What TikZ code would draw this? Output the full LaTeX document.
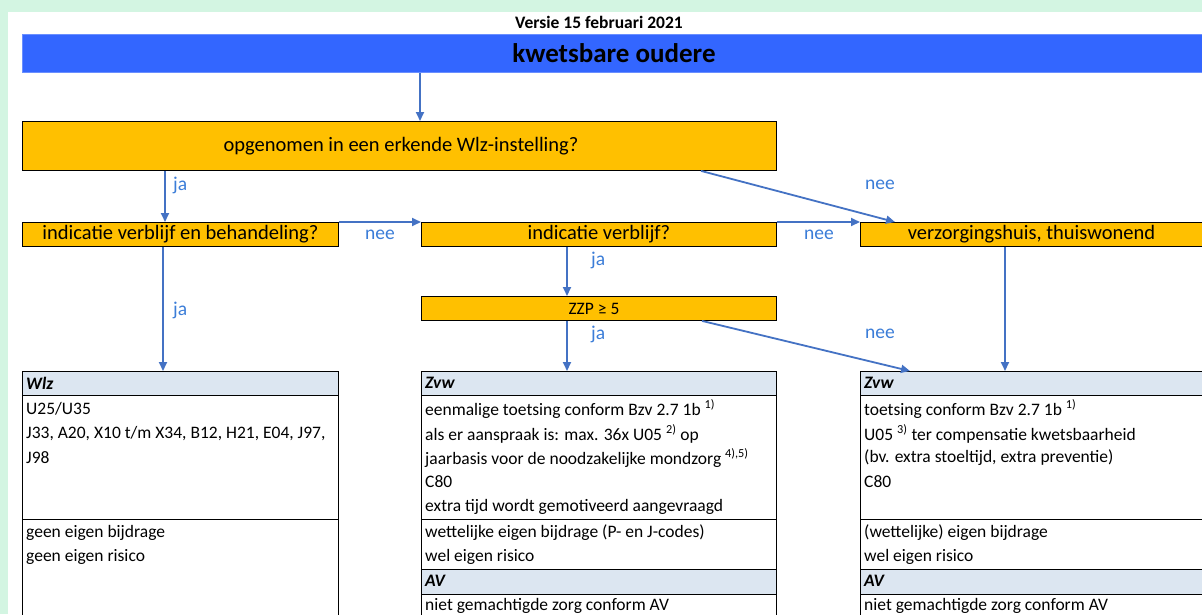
\documentclass[tikz,border=0pt]{standalone}
\usepackage{fontspec}
\setmainfont{Carlito}
\usetikzlibrary{arrows.meta}
\definecolor{bggreen}{HTML}{D3F5E2}
\definecolor{barblue}{HTML}{3366FF}
\definecolor{barborder}{HTML}{6A8FFF}
\definecolor{qorange}{HTML}{FFC000}
\definecolor{arrowblue}{HTML}{4472C4}
\definecolor{lblblue}{HTML}{3B7DD8}
\definecolor{hdrblue}{HTML}{DCE6F1}
\begin{document}
\begin{tikzpicture}[x=1pt,y=-1pt,
 qbox/.style={draw=black, line width=0.9pt, fill=qorange, inner sep=0pt, anchor=north west, font=\fontsize{20.5}{23}\selectfont},
 arr/.style={draw=arrowblue, line width=1.8pt, -{Triangle[length=9pt,width=8pt]}},
 lbl/.style={text=lblblue, font=\fontsize{19.5}{22}\selectfont, inner sep=0pt},
 cell/.style={draw=black, line width=0.9pt, inner sep=0pt, anchor=north west},
 hdr/.style={cell, fill=hdrblue},
 txt/.style={anchor=west, inner sep=0pt, font=\fontsize{17.5}{20}\selectfont},
 htxt/.style={txt, font=\fontsize{17.5}{20}\selectfont\bfseries\itshape}]
\useasboundingbox (0,0) rectangle (1202,614);
\clip (0,0) rectangle (1202,614);
\fill[bggreen] (0,0) rectangle (1202,614);
\fill[white] (8,12) rectangle (1202,614);

\node[font=\fontsize{17.5}{20}\selectfont\bfseries, inner sep=0pt] (ver) at (599,22) {Versie 15 februari 2021};
\node[draw=barborder, fill=barblue, line width=1pt, minimum width=1190, minimum height=38, inner sep=0pt, anchor=north west] (bar) at (22,34) {};
\node[font=\fontsize{27}{30}\selectfont\bfseries, inner sep=0pt] (bartxt) at (614,53) {kwetsbare oudere};

% decision boxes
\node[qbox, minimum width=754, minimum height=49] (q1) at (22,121) {};
\node[font=\fontsize{20.5}{23}\selectfont, inner sep=0pt] (q1t) at (401,146) {opgenomen in een erkende Wlz-instelling?};
\node[qbox, minimum width=316, minimum height=24] (qa) at (22,222) {indicatie verblijf en behandeling?};
\node[qbox, minimum width=355, minimum height=24] (qb) at (421,222) {indicatie verblijf?};
\node[qbox, minimum width=345, minimum height=24] (qc) at (860,222) {\hspace*{-3pt}verzorgingshuis, thuiswonend};
\node[qbox, minimum width=355, minimum height=24] (zzp) at (421,296) {};
\node[font=\fontsize{17.5}{20}\selectfont, inner sep=0pt] (zzpt) at (594,309) {ZZP ≥ 5};

% tables: left
\node[hdr, minimum width=316, minimum height=24] (wlzh) at (22,371) {};
\node[cell, minimum width=316, minimum height=124] (wlzb) at (22,395) {};
\node[cell, minimum width=316, minimum height=110] (wlzc) at (22,519) {};
% middle
\node[hdr, minimum width=355, minimum height=24] (zvah) at (421,371) {};
\node[cell, minimum width=355, minimum height=124] (zvab) at (421,395) {};
\node[cell, minimum width=355, minimum height=50] (zvac) at (421,519) {};
\node[hdr, minimum width=355, minimum height=25] (avah) at (421,569) {};
\node[cell, minimum width=355, minimum height=40] (avab) at (421,594) {};
% right
\node[hdr, minimum width=350, minimum height=24] (zvbh) at (860,371) {};
\node[cell, minimum width=350, minimum height=124] (zvbb) at (860,395) {};
\node[cell, minimum width=350, minimum height=50] (zvbc) at (860,519) {};
\node[hdr, minimum width=350, minimum height=25] (avbh) at (860,569) {};
\node[cell, minimum width=350, minimum height=40] (avbb) at (860,594) {};

% table texts left
\node[htxt] (t1) at (26,383) {Wlz};
\node[txt] (t2) at (26,409) {U25/U35};
\node[txt] (t3) at (26,434) {J33, A20, X10 t/m X34, B12, H21, E04, J97,};
\node[txt] (t4) at (26,458) {J98};
\node[txt] (t5) at (26,533) {geen eigen bijdrage};
\node[txt] (t6) at (26,557) {geen eigen risico};
% middle
\node[htxt] (m1) at (425,383) {Zvw};
\node[txt] (m2) at (425,409) {eenmalige toetsing conform Bzv 2.7 1b \textsuperscript{1)}};
\node[txt] (m3) at (425,434) {als er aanspraak is: max. 36x U05 \textsuperscript{2)} op};
\node[txt] (m4) at (425,458) {jaarbasis voor de noodzakelijke mondzorg \textsuperscript{4),5)}};
\node[txt] (m5) at (425,482) {C80};
\node[txt] (m6) at (425,507) {extra tijd wordt gemotiveerd aangevraagd};
\node[txt] (m7) at (425,533) {wettelijke eigen bijdrage (P- en J-codes)};
\node[txt] (m8) at (425,557) {wel eigen risico};
\node[htxt] (m9) at (425,581) {AV};
\node[txt] (m10) at (425,606) {niet gemachtigde zorg conform AV};
% right
\node[htxt] (r1) at (864,383) {Zvw};
\node[txt] (r2) at (864,409) {toetsing conform Bzv 2.7 1b \textsuperscript{1)}};
\node[txt] (r3) at (864,434) {U05 \textsuperscript{3)} ter compensatie kwetsbaarheid};
\node[txt] (r4) at (864,458) {(bv. extra stoeltijd, extra preventie)};
\node[txt] (r5) at (864,482) {C80};
\node[txt] (r7) at (864,533) {(wettelijke) eigen bijdrage};
\node[txt] (r8) at (864,557) {wel eigen risico};
\node[htxt] (r9) at (864,581) {AV};
\node[txt] (r10) at (864,606) {niet gemachtigde zorg conform AV};

% connectors
\draw[arr] (bar.south -| 420,0) -- (q1.north -| 420,0);
\draw[arr] (q1.south -| 165,0) -- (qa.north -| 165,0);
\draw[arr] (q1.south -| 701,0) -- (qc.north -| 895,0);
\draw[arr] (qa.north east) -- (qb.north west);
\draw[arr] (qb.north east) -- (qc.north west);
\draw[arr] (qa.south -| 163,0) -- (wlzh.north -| 163,0);
\draw[arr] (qb.south -| 567,0) -- (zzp.north -| 567,0);
\draw[arr] (zzp.south -| 567,0) -- (zvah.north -| 567,0);
\draw[arr] (zzp.south -| 702,0) -- (zvbh.north -| 910,0);
\draw[arr] (qc.south -| 1005,0) -- (zvbh.north -| 1005,0);

% labels
\node[lbl, anchor=west] (l1) at (173,185) {ja};
\node[lbl] (l2) at (880,185) {nee};
\node[lbl] (l3) at (380,235) {nee};
\node[lbl] (l4) at (819,235) {nee};
\node[lbl, anchor=west] (l5) at (173,310) {ja};
\node[lbl, anchor=west] (l6) at (591,260) {ja};
\node[lbl, anchor=west] (l7) at (591,334) {ja};
\node[lbl] (l8) at (880,334) {nee};
\end{tikzpicture}
\end{document}
